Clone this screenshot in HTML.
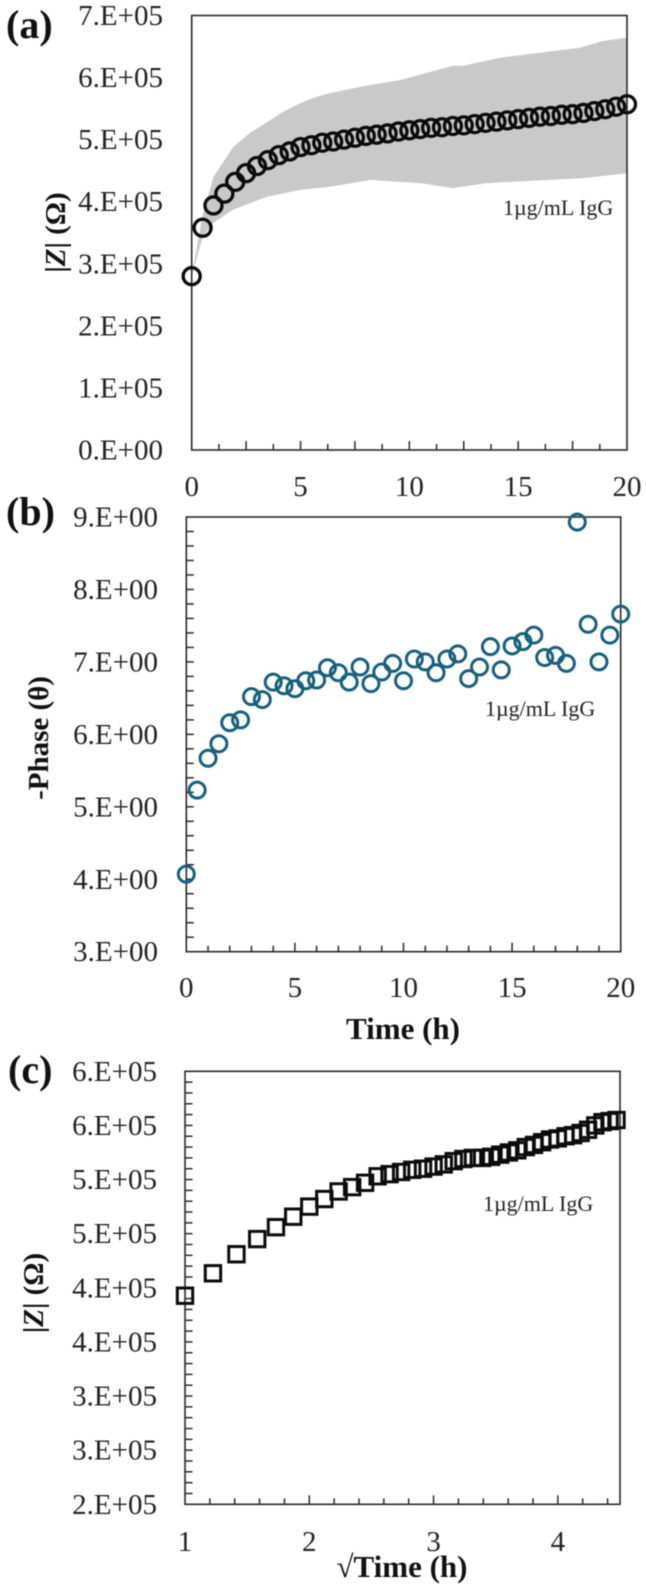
<!DOCTYPE html>
<html lang="en">
<head>
<meta charset="utf-8">
<title>Impedance and phase versus time, 1µg/mL IgG</title>
<style>
  html, body { margin: 0; padding: 0; background: #fff; }
  body { width: 646px; height: 1584px; overflow: hidden; }
  svg { display: block; filter: blur(0.4px); }
  text { font-family: "Liberation Serif", "DejaVu Serif", serif; fill: #222; }
  .tick { font-size: 29px; }
  .panel { font-size: 40px; font-weight: bold; fill: #111; }
  .title { font-size: 29px; font-weight: bold; fill: #111; }
  .xtitle { font-size: 31px; font-weight: bold; fill: #111; }
  .note { font-size: 22px; }
</style>
</head>
<body>
<svg id="figure" xmlns="http://www.w3.org/2000/svg" width="646" height="1584" viewBox="0 0 646 1584">
  <rect x="0" y="0" width="646" height="1584" fill="#fff"/>
  <g id="layer-a"></g>
  <g id="layer-b"></g>
  <g id="layer-c"></g>

  <text class="panel" x="6" y="38">(a)</text>
  <text class="panel" x="6" y="525">(b)</text>
  <text class="panel" x="8" y="1083">(c)</text>

  <text class="title" text-anchor="middle" transform="translate(65 232.5) rotate(-90)">|<tspan font-style="italic">Z</tspan>| (Ω)</text>
  <text class="title" text-anchor="middle" transform="translate(48 738) rotate(-90)">-Phase (θ)</text>
  <text class="title" text-anchor="middle" transform="translate(43 1293) rotate(-90)">|<tspan font-style="italic">Z</tspan>| (Ω)</text>

  <text class="xtitle" text-anchor="middle" x="403" y="1039">Time (h)</text>
  <text class="xtitle" text-anchor="middle" x="402" y="1577">√Time (h)</text>

  <text class="note" x="503" y="215">1µg/mL IgG</text>
  <text class="note" x="485" y="716">1µg/mL IgG</text>
  <text class="note" x="483" y="1211">1µg/mL IgG</text>
</svg>

<script>
// ---- Chart (a) data: |Z| in units of 1e5 ohm against time in hours
const aTimes = [0,0.5,1,1.5,2,2.5,3,3.5,4,4.5,5,5.5,6,6.5,7,7.5,8,8.5,9,9.5,10,10.5,11,11.5,12,12.5,13,13.5,14,14.5,15,15.5,16,16.5,17,17.5,18,18.5,19,19.5,20];
const aValues = [2.80,3.58,3.94,4.13,4.32,4.46,4.575,4.67,4.75,4.81,4.88,4.91,4.95,4.97,5.00,5.03,5.06,5.08,5.10,5.13,5.15,5.17,5.19,5.20,5.22,5.23,5.25,5.27,5.29,5.31,5.33,5.35,5.37,5.38,5.40,5.41,5.43,5.46,5.49,5.53,5.57];
const aBandUpperTimes = [0,0.5,1,1.9,2.68,3.46,4.2,5,5.75,6.35,7.87,9.57,12,12.47,14.16,17.84,18.9,20];
const aBandUpper = [2.80,3.79,4.40,4.88,5.11,5.28,5.45,5.59,5.69,5.75,5.86,5.96,6.19,6.19,6.32,6.48,6.59,6.64];
const aBandLowerTimes = [0,0.5,1,1.9,3.46,5,6.35,8.2,10.5,12,13.57,18,20];
const aBandLower = [2.80,3.43,3.66,3.87,4.08,4.19,4.24,4.35,4.30,4.22,4.30,4.38,4.46];
const aXTickValues = [0,5,10,15,20];
const aYTickValues = [0,1,2,3,4,5,6,7];
const aYTickLabels = ['0.E+00','1.E+05','2.E+05','3.E+05','4.E+05','5.E+05','6.E+05','7.E+05'];

// ---- Chart (b) data: -phase in degrees against time in hours
const bTimes = [0,0.5,1,1.5,2,2.5,3,3.5,4,4.5,5,5.5,6,6.5,7,7.5,8,8.5,9,9.5,10,10.5,11,11.5,12,12.5,13,13.5,14,14.5,15,15.5,16,16.5,17,17.5,18,18.5,19,19.5,20];
const bValues = [4.07,5.23,5.67,5.87,6.16,6.20,6.52,6.48,6.72,6.67,6.63,6.74,6.75,6.92,6.85,6.72,6.93,6.70,6.86,6.98,6.74,7.04,7.00,6.85,7.04,7.11,6.77,6.93,7.21,6.89,7.22,7.28,7.37,7.06,7.09,6.98,8.93,7.52,7.00,7.37,7.66];
const bXTickValues = [0,5,10,15,20];
const bYTickValues = [3,4,5,6,7,8,9];
const bYTickLabels = ['3.E+00','4.E+00','5.E+00','6.E+00','7.E+00','8.E+00','9.E+00'];

// ---- Chart (c) data: |Z| in units of 1e5 ohm against the square root of time
const cRootTimes = [1,1.225,1.414,1.581,1.732,1.871,2,2.121,2.236,2.345,2.449,2.55,2.646,2.739,2.828,2.915,3,3.082,3.162,3.24,3.317,3.391,3.464,3.536,3.606,3.674,3.742,3.808,3.873,3.937,4,4.062,4.123,4.183,4.243,4.301,4.359,4.416,4.472];
const cValues = [3.927,4.134,4.31,4.45,4.56,4.657,4.75,4.82,4.89,4.93,4.97,5.03,5.05,5.07,5.09,5.10,5.12,5.14,5.17,5.19,5.20,5.20,5.21,5.23,5.25,5.27,5.30,5.32,5.345,5.37,5.38,5.40,5.41,5.43,5.46,5.50,5.53,5.54,5.55];
const cXTickValues = [1,2,3,4];
const cYTickValues = [2,2.5,3,3.5,4,4.5,5,5.5,6];
const cYTickLabels = ['2.E+05','3.E+05','3.E+05','4.E+05','4.E+05','5.E+05','5.E+05','6.E+05','6.E+05'];

// ---- Plot frames
const frameA = { left: 191.7, right: 627, top: 15.5, bottom: 450, xMin: 0, xMax: 20, yMin: 0, yMax: 7 };
const frameB = { left: 186.3, right: 620.7, top: 517, bottom: 951.7, xMin: 0, xMax: 20, yMin: 3, yMax: 9 };
const frameC = { left: 185, right: 620, top: 1071.3, bottom: 1504.3, xMin: 1, xMax: 4.5, yMin: 2, yMax: 6 };

const NS = 'http://www.w3.org/2000/svg';
const AXIS_COLOR = '#2a2a2a';

function xScale(frame, value) {
  return frame.left + (value - frame.xMin) / (frame.xMax - frame.xMin) * (frame.right - frame.left);
}
function yScale(frame, value) {
  return frame.bottom - (value - frame.yMin) / (frame.yMax - frame.yMin) * (frame.bottom - frame.top);
}
function shape(parent, tag, props) {
  const el = document.createElementNS(NS, tag);
  for (const key in props) el.setAttribute(key, props[key]);
  parent.appendChild(el);
  return el;
}
function drawFrame(parent, frame, chartId) {
  const el = shape(parent, 'rect', {
    x: frame.left, y: frame.top,
    width: frame.right - frame.left, height: frame.bottom - frame.top,
    fill: 'none', stroke: AXIS_COLOR, 'stroke-width': 1.6
  });
  
  
}
function drawXTicks(parent, frame, chartId, step, majorEvery) {
  const count = Math.round((frame.xMax - frame.xMin) / step);
  for (let i = 1; i < count; i++) {
    const x = xScale(frame, frame.xMin + i * step);
    const isMajor = i % majorEvery === 0;
    const el = shape(parent, 'line', {
      x1: x, x2: x, y1: frame.bottom, y2: frame.bottom - (isMajor ? 9 : 6),
      stroke: AXIS_COLOR, 'stroke-width': 1.5
    });
    
    
  }
}
function drawYTicks(parent, frame, chartId, step) {
  const count = Math.round((frame.yMax - frame.yMin) / step);
  for (let i = 1; i < count; i++) {
    const y = yScale(frame, frame.yMin + i * step);
    const el = shape(parent, 'line', {
      x1: frame.left, x2: frame.left + 7.5, y1: y, y2: y,
      stroke: AXIS_COLOR, 'stroke-width': 1.5
    });
    
    
  }
}
function drawXLabels(parent, frame, chartId, values, baseline) {
  values.forEach(function (value) {
    const el = shape(parent, 'text', {
      x: xScale(frame, value), y: baseline, 'text-anchor': 'middle', class: 'tick'
    });
    el.textContent = String(value);
    
    
  });
}
function drawYLabels(parent, frame, chartId, values, labels, rightEdge) {
  values.forEach(function (value, i) {
    const el = shape(parent, 'text', {
      x: rightEdge, y: yScale(frame, value) + 9.5, 'text-anchor': 'end', class: 'tick'
    });
    el.textContent = labels[i];
    
    
  });
}
function drawCircles(parent, frame, chartId, xs, ys, color, radius, strokeWidth) {
  xs.forEach(function (xValue, i) {
    const el = shape(parent, 'circle', {
      cx: xScale(frame, xValue), cy: yScale(frame, ys[i]), r: radius,
      fill: 'none', stroke: color, 'stroke-width': strokeWidth
    });
    
    
  });
}
function drawSquares(parent, frame, chartId, xs, ys, color, half, strokeWidth) {
  xs.forEach(function (xValue, i) {
    const el = shape(parent, 'rect', {
      x: xScale(frame, xValue) - half, y: yScale(frame, ys[i]) - half,
      width: half * 2, height: half * 2,
      fill: 'none', stroke: color, 'stroke-width': strokeWidth
    });
    
    
  });
}

// ---- Chart (a)
const layerA = document.getElementById('layer-a');
const upperPoints = aBandUpperTimes.map(function (t, i) {
  return xScale(frameA, t).toFixed(1) + ',' + yScale(frameA, aBandUpper[i]).toFixed(1);
});
const lowerPoints = aBandLowerTimes.map(function (t, i) {
  return xScale(frameA, t).toFixed(1) + ',' + yScale(frameA, aBandLower[i]).toFixed(1);
}).reverse();
const bandEl = shape(layerA, 'polygon', {
  points: upperPoints.concat(lowerPoints).join(' '),
  fill: '#c9c9c9', stroke: 'none'
});


drawFrame(layerA, frameA, 'a');
drawXTicks(layerA, frameA, 'a', 1.25, 2);
drawXLabels(layerA, frameA, 'a', aXTickValues, 496);
drawYLabels(layerA, frameA, 'a', aYTickValues, aYTickLabels, 163);
drawCircles(layerA, frameA, 'a', aTimes, aValues, '#0b0b0b', 8.5, 3.3);

// ---- Chart (b)
const layerB = document.getElementById('layer-b');
drawFrame(layerB, frameB, 'b');
drawXTicks(layerB, frameB, 'b', 1, 5);
drawYTicks(layerB, frameB, 'b', 0.2);
drawXLabels(layerB, frameB, 'b', bXTickValues, 997);
drawYLabels(layerB, frameB, 'b', bYTickValues, bYTickLabels, 158);
drawCircles(layerB, frameB, 'b', bTimes, bValues, '#17607f', 8, 3);

// ---- Chart (c)
const layerC = document.getElementById('layer-c');
drawFrame(layerC, frameC, 'c');
drawXTicks(layerC, frameC, 'c', 0.2, 5);
drawYTicks(layerC, frameC, 'c', 0.1);
drawXLabels(layerC, frameC, 'c', cXTickValues, 1551);
drawYLabels(layerC, frameC, 'c', cYTickValues, cYTickLabels, 157);
drawSquares(layerC, frameC, 'c', cRootTimes, cValues, '#0b0b0b', 7.7, 3);
</script>
</body>
</html>
